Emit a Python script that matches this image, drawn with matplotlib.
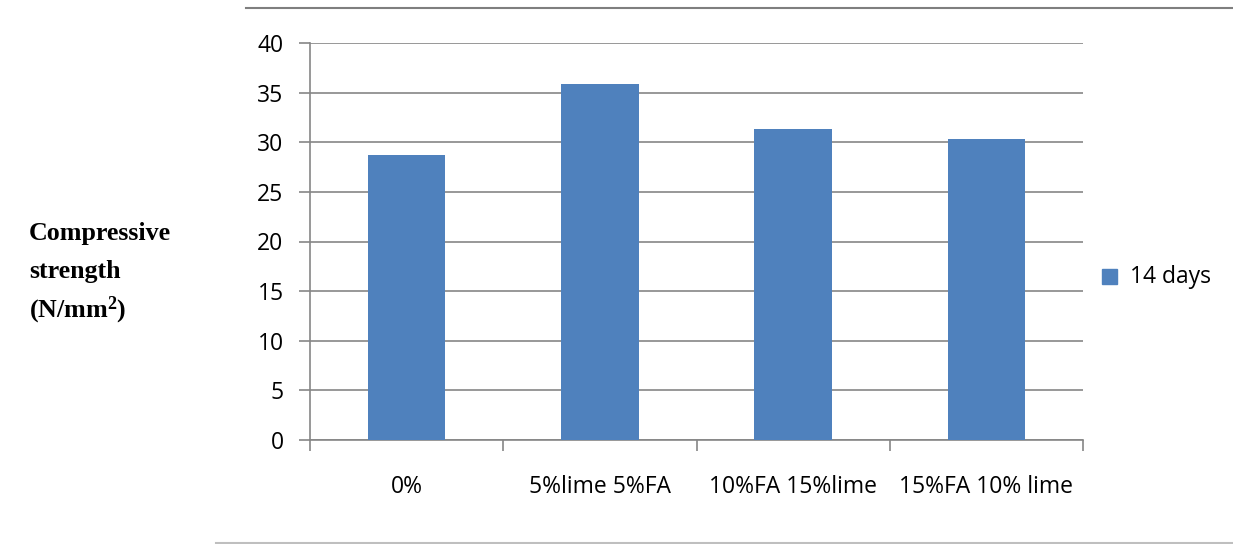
import matplotlib
matplotlib.use("Agg")
import matplotlib.pyplot as plt
from matplotlib.lines import Line2D
from matplotlib.patches import Rectangle

categories = ["0%", "5%lime 5%FA", "10%FA 15%lime", "15%FA 10% lime"]
strength_14_days = [28.7, 35.9, 31.3, 30.3]
y_ticks = [0, 5, 10, 15, 20, 25, 30, 35, 40]
series_label = "14 days"

# superscript in the axis title uses the same bold serif face
plt.rcParams["mathtext.fontset"] = "custom"
plt.rcParams["mathtext.rm"] = "Liberation Serif:bold"
plt.rcParams["mathtext.bf"] = "Liberation Serif:bold"
plt.rcParams["mathtext.it"] = "Liberation Serif:bold"

W, H = 1233, 544
fig = plt.figure(figsize=(W / 100, H / 100), dpi=100)

# plot area in pixel coordinates
left, right, top, bottom = 310, 1083, 43, 440
ax = fig.add_axes([left / W, 1 - bottom / H, (right - left) / W, (bottom - top) / H])

bar_color = "#4F81BD"
grid_color = "#868686"
tick_font = "Open Sans"
fs = 16.5

x = list(range(len(categories)))
ax.bar(x, strength_14_days, width=0.4, color=bar_color, zorder=3)
ax.set_xlim(-0.5, len(categories) - 0.5)
ax.set_ylim(0, 40)
ax.set_yticks(y_ticks)
ax.set_yticklabels([str(v) for v in y_ticks], fontsize=fs, family=tick_font)
ax.yaxis.grid(True, color=grid_color, linewidth=1.2, zorder=0)
ax.set_axisbelow(True)

# category boundaries carry the x tick marks; labels sit at bar centres
ax.set_xticks([i - 0.5 for i in range(len(categories) + 1)])
ax.set_xticklabels([])
ax.set_xticks(x, minor=True)
ax.set_xticklabels(categories, minor=True, fontsize=fs, family=tick_font)
ax.tick_params(axis="x", which="minor", length=0, pad=25)
ax.tick_params(axis="x", which="major", length=8, width=1.2, color=grid_color, direction="out")
ax.tick_params(axis="y", length=8, width=1.2, color=grid_color, direction="out", pad=11)

for side in ["top", "right"]:
    ax.spines[side].set_visible(False)
for side in ["left", "bottom"]:
    ax.spines[side].set_color(grid_color)
    ax.spines[side].set_linewidth(1.2)

# legend
fig.patches.append(Rectangle((1102 / W, 1 - 284 / H), 15 / W, 15 / H,
                             transform=fig.transFigure, color=bar_color))
fig.text(1130 / W, 1 - 277 / H, series_label, fontsize=fs, family=tick_font, va="center", ha="left")

# y axis title
title_kw = dict(fontsize=18.7, fontweight="bold", family="Liberation Serif", va="baseline", ha="left")
fig.text(29 / W, 1 - 240 / H, "Compressive", **title_kw)
fig.text(29 / W, 1 - 278 / H, "strength", **title_kw)
fig.text(29 / W, 1 - 317 / H, r"(N/mm$^{2}$)", **title_kw)

# horizontal rules above and below the chart
fig.add_artist(Line2D([246 / W, 1], [1 - 7.5 / H] * 2, transform=fig.transFigure,
                      color="#7f7f7f", linewidth=1.5))
fig.add_artist(Line2D([216 / W, 1], [1 - 543 / H] * 2, transform=fig.transFigure,
                      color="#bfbfbf", linewidth=1.5))

fig.savefig("out.png", dpi=100)
